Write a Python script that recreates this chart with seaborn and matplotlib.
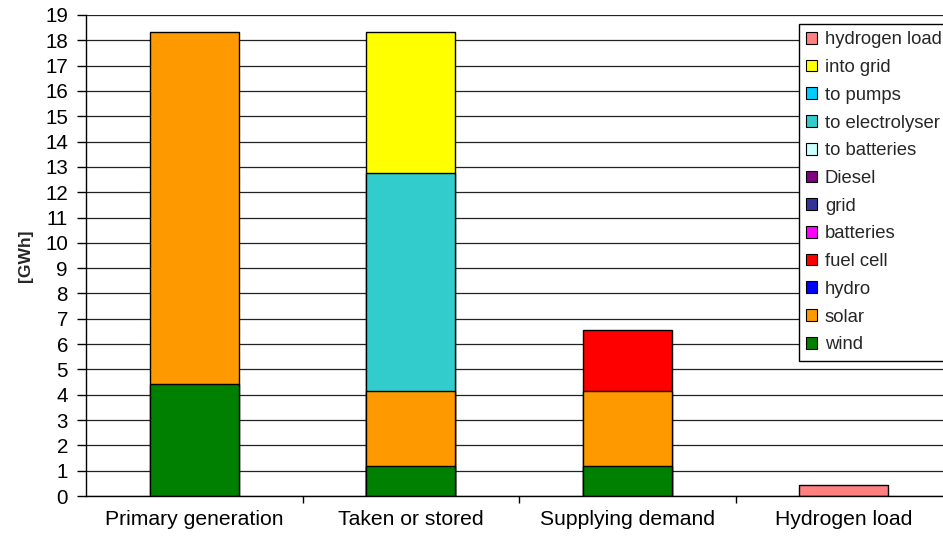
import matplotlib
matplotlib.use("Agg")
import matplotlib.pyplot as plt
from matplotlib.patches import Patch
from matplotlib.ticker import MultipleLocator, FixedLocator
import numpy as np
import pandas as pd
import seaborn as sns

# Energy balance categories (x axis)
categories = ["Primary generation", "Taken or stored", "Supplying demand", "Hydrogen load"]

# Stack components, bottom to top, values in GWh per category
series_names = ["wind", "solar", "hydro", "fuel cell", "batteries", "grid", "Diesel",
                "to batteries", "to electrolyser", "to pumps", "into grid", "hydrogen load"]
wind            = [4.41, 1.17, 1.17, 0.0]
solar           = [13.93, 2.98, 2.98, 0.0]
hydro           = [0.0, 0.0, 0.0, 0.0]
fuel_cell       = [0.0, 0.0, 2.40, 0.0]
batteries       = [0.0, 0.0, 0.0, 0.0]
grid            = [0.0, 0.0, 0.0, 0.0]
diesel          = [0.0, 0.0, 0.0, 0.0]
to_batteries    = [0.0, 0.0, 0.0, 0.0]
to_electrolyser = [0.0, 8.60, 0.0, 0.0]
to_pumps        = [0.0, 0.0, 0.0, 0.0]
into_grid       = [0.0, 5.59, 0.0, 0.0]
hydrogen_load   = [0.0, 0.0, 0.0, 0.43]

series_values = [wind, solar, hydro, fuel_cell, batteries, grid, diesel,
                 to_batteries, to_electrolyser, to_pumps, into_grid, hydrogen_load]

colors = {
    "wind": "#008000", "solar": "#FF9900", "hydro": "#0000FF", "fuel cell": "#FF0000",
    "batteries": "#FF00FF", "grid": "#333399", "Diesel": "#800080",
    "to batteries": "#CCFFFF", "to electrolyser": "#33CCCC", "to pumps": "#00CCFF",
    "into grid": "#FFFF00", "hydrogen load": "#FF8080",
}

sns.set_theme(style="white")
plt.rcParams["font.family"] = ["Liberation Sans", "DejaVu Sans"]

fig = plt.figure(figsize=(9.43, 5.38), dpi=100)
ax = fig.add_axes([86 / 943, 42 / 538, 866 / 943, 481 / 538])

# Stacked bars: draw cumulative heights from the top layer down so lower layers overlay
values = np.array(series_values)
cumulative = np.cumsum(values, axis=0)
for i in range(len(series_names) - 1, -1, -1):
    mask = values[i] > 0
    if not mask.any():
        continue
    df = pd.DataFrame({"category": np.array(categories)[mask], "value": cumulative[i][mask]})
    sns.barplot(data=df, x="category", y="value", order=categories,
                color=colors[series_names[i]], saturation=1, width=0.41,
                edgecolor="black", linewidth=1.0, errorbar=None, ax=ax)

ax.set_xlim(-0.5, len(categories) - 0.5)
ax.set_ylim(0, 19)
ax.yaxis.set_major_locator(MultipleLocator(1))
ax.grid(axis="y", color="#222222", linewidth=0.9)
ax.grid(axis="x", visible=False)
ax.set_axisbelow(True)

for side in ["top", "right"]:
    ax.spines[side].set_visible(False)
for side in ["left", "bottom"]:
    ax.spines[side].set_color("black")
    ax.spines[side].set_linewidth(1.0)

ax.set_xlabel("")
ax.set_ylabel("[GWh]", fontsize=12.5, fontweight="bold", labelpad=9)
ax.set_xticks(range(len(categories)))
ax.set_xticklabels(categories)
ax.xaxis.set_minor_locator(FixedLocator([0.5, 1.5, 2.5]))
ax.tick_params(axis="x", which="major", length=0, pad=10, labelsize=15.2, colors="black")
ax.tick_params(axis="x", which="minor", bottom=True, length=5, width=1, color="black")
ax.tick_params(axis="y", which="major", left=True, length=6.5, width=1, pad=6.5,
               labelsize=14.8, colors="black", color="black")

handles = [Patch(facecolor=colors[n], edgecolor="black", linewidth=0.8, label=n)
           for n in reversed(series_names)]
leg = fig.legend(handles=handles, loc="upper left", bbox_to_anchor=(799 / 943, 1 - 24 / 538),
                 bbox_transform=fig.transFigure, borderaxespad=0, fontsize=13.3,
                 frameon=True, fancybox=False, edgecolor="black", framealpha=1,
                 handlelength=0.6, handleheight=0.6, handletextpad=0.4,
                 labelspacing=0.58, borderpad=0.4)
leg.get_frame().set_linewidth(1.0)

fig.savefig("out.png", dpi=100)
